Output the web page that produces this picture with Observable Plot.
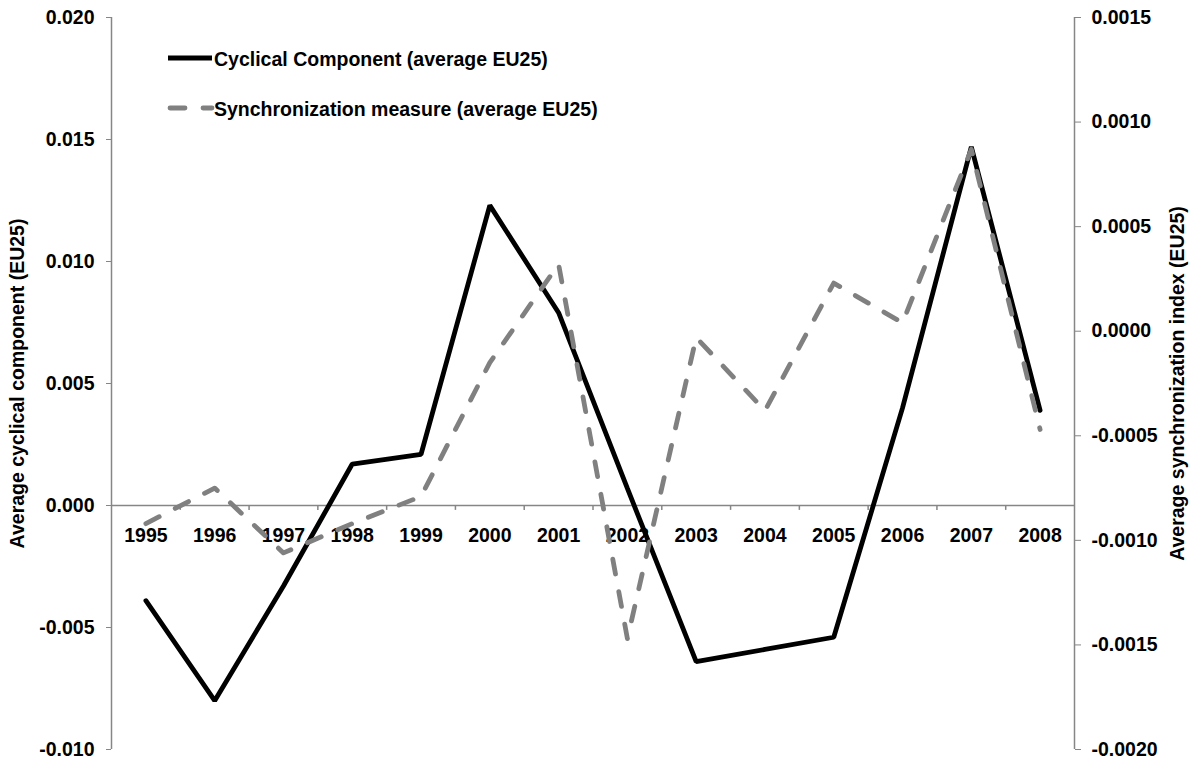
<!DOCTYPE html>
<html>
<head>
<meta charset="utf-8">
<script src="https://cdn.jsdelivr.net/npm/d3@7"></script>
<script src="https://cdn.jsdelivr.net/npm/@observablehq/plot@0.6"></script>
<style>
  body { margin: 0; background: #fff; }
</style>
</head>
<body>
<div id="chart"></div>
<script>
// ---- data ----
const years = [1995, 1996, 1997, 1998, 1999, 2000, 2001, 2002, 2003, 2004, 2005, 2006, 2007, 2008];
const cyclical = [-0.0039, -0.0080, -0.0033, 0.0017, 0.0021, 0.0123, 0.0079, 0.0007, -0.0064, -0.0059, -0.0054, 0.0040, 0.0147, 0.0039];
const sync = [-0.00092, -0.00075, -0.00106, -0.00092, -0.00079, -0.00015, 0.00032, -0.00147, -0.00003, -0.00038, 0.00023, 0.00004, 0.00087, -0.00047];
const leftTicks = [-0.010, -0.005, 0.000, 0.005, 0.010, 0.015, 0.020];
const rightTicks = [-0.0020, -0.0015, -0.0010, -0.0005, 0.0000, 0.0005, 0.0010, 0.0015];
const seriesNames = ["Cyclical Component (average EU25)", "Synchronization measure (average EU25)"];
const axisTitles = ["Average cyclical component (EU25)", "Average synchronization index (EU25)"];

// ---- scales ----
const leftDomain = [-0.010, 0.020];
const rightDomain = [-0.0020, 0.0015];
const xDomain = [years[0] - 0.5, years[years.length - 1] + 0.5];
const k = (leftDomain[1] - leftDomain[0]) / (rightDomain[1] - rightDomain[0]);
const toLeft = v => leftDomain[0] + (v - rightDomain[0]) * k;
const fromLeft = v => rightDomain[0] + (v - leftDomain[0]) / k;

const rows = years.map((year, i) => ({year, cyc: cyclical[i], syn: sync[i]}));
const boundaries = years.slice(0, -1).map(y => y + 0.5);

const FONT = "'Liberation Sans', Arial, Helvetica, sans-serif";
const AXIS = "#868686";
const GRAY = "#808080";
const FS = 19.5;

const chart = Plot.plot({
  width: 1191,
  height: 763,
  marginLeft: 111,
  marginRight: 117,
  marginTop: 17,
  marginBottom: 14,
  style: {fontFamily: FONT, fontSize: FS + "px", fontWeight: "bold", color: "#000", background: "#fff", overflow: "visible"},
  x: {domain: xDomain, axis: null},
  y: {domain: leftDomain},
  marks: [
    Plot.ruleY([0], {stroke: AXIS, strokeWidth: 1.5}),
    Plot.ruleX(boundaries, {y1: 0, y2: -0.0002, stroke: AXIS, strokeWidth: 1.5}),
    Plot.ruleX([xDomain[0], xDomain[1]], {stroke: AXIS, strokeWidth: 1.5}),
    Plot.axisY({anchor: "left", ticks: leftTicks, tickSize: 5, tickPadding: 12,
      tickFormat: d => d.toFixed(3), stroke: AXIS, fill: "#000", label: null, fontSize: FS, fontWeight: "bold"}),
    Plot.axisY({anchor: "right", ticks: rightTicks.map(toLeft), tickSize: 6, tickPadding: 11,
      tickFormat: d => (Math.round(fromLeft(d) * 1e4) / 1e4).toFixed(4), stroke: AXIS, fill: "#000", label: null, fontSize: FS, fontWeight: "bold"}),
    Plot.text(years, {x: d => d, y: 0, dy: 30, text: d => String(d), fill: "#000", fontSize: FS, fontWeight: "bold"}),
    Plot.line(rows, {x: "year", y: "cyc", stroke: "#000", strokeWidth: 4.8, strokeLinejoin: "miter"}),
    Plot.line(rows, {x: "year", y: d => toLeft(d.syn), stroke: GRAY, strokeWidth: 4.8, strokeDasharray: "15,18", strokeLinecap: "round"}),
    Plot.text([axisTitles[0]], {frameAnchor: "left", textAnchor: "middle", dx: -94, rotate: -90, fill: "#000", fontSize: FS, fontWeight: "bold"}),
    Plot.text([axisTitles[1]], {frameAnchor: "right", textAnchor: "middle", dx: 103, rotate: -90, fill: "#000", fontSize: FS, fontWeight: "bold"})
  ]
});

// ---- legend (inside the plot area, top-left) ----
const svg = d3.select(chart);
const lg = svg.append("g").attr("font-family", FONT).attr("font-size", FS).attr("font-weight", "bold")
  .attr("fill", "#000").attr("text-anchor", "start");
lg.append("line").attr("x1", 168).attr("x2", 212).attr("y1", 58).attr("y2", 58)
  .attr("stroke", "#000").attr("stroke-width", 4.8);
lg.append("text").attr("x", 214).attr("y", 65.5).text(seriesNames[0]);
lg.append("line").attr("x1", 170).attr("x2", 212).attr("y1", 108).attr("y2", 108)
  .attr("stroke", GRAY).attr("stroke-width", 4.8).attr("stroke-dasharray", "15,18").attr("stroke-linecap", "round");
lg.append("text").attr("x", 214).attr("y", 115.5).text(seriesNames[1]);

document.getElementById("chart").appendChild(chart);
</script>
</body>
</html>
